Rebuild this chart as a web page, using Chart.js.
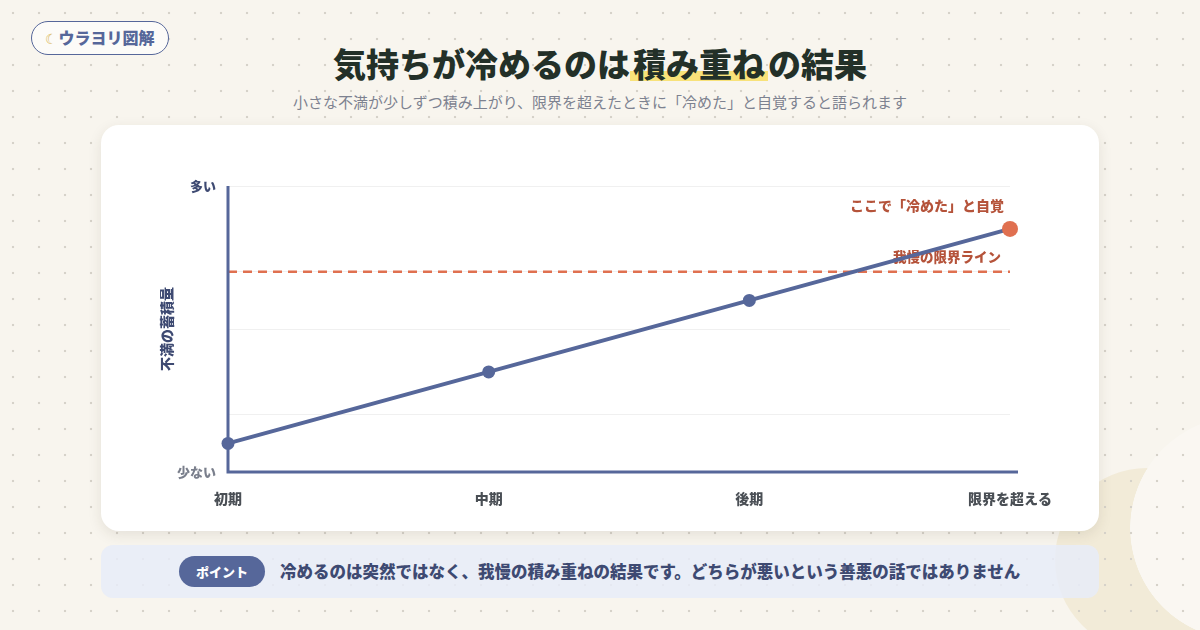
<!DOCTYPE html>
<html lang="ja">

<head>
    <meta charset="UTF-8">
    <title>気持ちが冷めるのは積み重ねの結果</title>
    <script src="https://cdn.jsdelivr.net/npm/chart.js"></script>
    <style>
        * { margin: 0; padding: 0; box-sizing: border-box; }
        body {
            width: 1200px;
            height: 630px;
            overflow: hidden;
            position: relative;
            font-family: "Noto Sans CJK JP", "Noto Sans", sans-serif;
            background-color: #f8f5ee;
        }
        .dots {
            position: absolute;
            left: 0; top: 0; width: 1200px; height: 630px;
            background-image: radial-gradient(circle, #d6d2c9 1.1px, transparent 1.6px);
            background-size: 26px 26px;
        }
        /* 右下の三日月 */
        .moon {
            position: absolute;
            left: 1055px;
            top: 468px;
            width: 184px;
            height: 184px;
            border-radius: 50%;
            background: radial-gradient(circle 112px at 187px 60px, transparent 111.5px, #f2ebd8 112px);
        }
        .moon-in {
            position: absolute;
            left: 1130px;
            top: 416px;
            width: 224px;
            height: 224px;
            border-radius: 50%;
            background: rgba(255, 255, 255, 0.25);
        }
        .badge {
            position: absolute;
            left: 31px;
            top: 21px;
            width: 138px;
            height: 34px;
            border: 1.5px solid #56679a;
            border-radius: 17px;
            background: #fcfbf8;
            color: #56679a;
            font-weight: 900;
            font-size: 16px;
            line-height: 31px;
            text-align: center;
        }
        .badge .m { color: #d9b85a; font-weight: 400; font-size: 14px; }
        h1 {
            position: absolute;
            left: 0;
            width: 1200px;
            top: 39px;
            text-align: center;
            font-size: 33px;
            font-weight: 900;
            color: #233028;
            line-height: 48px;
        }
        h1 span {
            padding: 0 3px;
            background: linear-gradient(transparent 66%, #f8e27a 66%, #f8e27a 88%, transparent 88%);
        }
        .sub {
            position: absolute;
            left: 0;
            width: 1200px;
            top: 91px;
            text-align: center;
            font-size: 15px;
            color: #7d8290;
        }
        .card {
            position: absolute;
            left: 101px;
            top: 125px;
            width: 998px;
            height: 406px;
            background: #fff;
            border-radius: 18px;
            box-shadow: 0 4px 14px rgba(60, 50, 30, 0.10);
        }
        .card canvas { position: absolute; left: 0; top: 0; }
        .point {
            position: absolute;
            left: 101px;
            top: 545px;
            width: 998px;
            height: 53px;
            background: rgba(232, 236, 248, 0.85);
            border-radius: 12px;
        }
        .point .tag {
            position: absolute;
            left: 78px;
            top: 11px;
            width: 86px;
            height: 31px;
            border-radius: 16px;
            background: #56679a;
            color: #fff;
            font-weight: 900;
            font-size: 13px;
            line-height: 31px;
            text-align: center;
        }
        .point .txt {
            position: absolute;
            left: 179px;
            top: 0;
            line-height: 53px;
            font-size: 16.5px;
            font-weight: 900;
            color: #3e4a72;
            white-space: nowrap;
        }
    </style>
</head>

<body>
    <div class="moon"></div>
    <div class="moon-in"></div>
    <div class="dots"></div>
    <div class="badge"><span class="m">☾</span>ウラヨリ図解</div>
    <h1>気持ちが冷めるのは<span>積み重ね</span>の結果</h1>
    <div class="sub">小さな不満が少しずつ積み上がり、限界を超えたときに「冷めた」と自覚すると語られます</div>

    <div class="card">
        <canvas id="chartLine" width="998" height="406"></canvas>
    </div>

    <div class="point">
        <div class="tag">ポイント</div>
        <div class="txt">冷めるのは突然ではなく、我慢の積み重ねの結果です。どちらが悪いという善悪の話ではありません</div>
    </div>
</body>

</html>
<script>
    // データ
    var rotulos = ["初期", "中期", "後期", "限界を超える"];
    var fuman = [10, 35, 60, 85];
    var genkai = 70;
    var yTicks = [0, 20, 50, 70, 100];
    var yLabels = { 0: "少ない", 100: "多い" };
    var genkaiLabel = "我慢の限界ライン";
    var jikakuLabel = "ここで「冷めた」と自覚";

    var azul = '#56679a';
    var laranja = '#e07050';
    var textoLaranja = '#b5533a';
    var fonte = '"Noto Sans CJK JP", "Noto Sans", sans-serif';

    // 限界ライン (データセットの下に描く)
    var linhaLimite = {
        id: 'linhaLimite',
        beforeDatasetsDraw: function (chart) {
            var ctx = chart.ctx, area = chart.chartArea;
            var y = chart.scales.y.getPixelForValue(genkai);
            ctx.save();
            ctx.font = '900 13.5px ' + fonte;
            ctx.fillStyle = textoLaranja;
            ctx.textAlign = 'right';
            ctx.textBaseline = 'middle';
            ctx.fillText(genkaiLabel, area.right - 9, y - 15);
            ctx.strokeStyle = laranja;
            ctx.lineWidth = 2.5;
            ctx.setLineDash([9, 6]);
            ctx.beginPath();
            ctx.moveTo(area.left, y);
            ctx.lineTo(area.right, y);
            ctx.stroke();
            ctx.restore();
        },
        afterDatasetsDraw: function (chart) {
            var ctx = chart.ctx, area = chart.chartArea;
            var pts = chart.getDatasetMeta(0).data;
            var last = pts[pts.length - 1];
            ctx.save();
            // 軸線
            ctx.strokeStyle = azul;
            ctx.lineWidth = 3;
            ctx.beginPath();
            ctx.moveTo(area.left, area.top);
            ctx.lineTo(area.left, area.bottom);
            ctx.lineTo(area.right + 8, area.bottom);
            ctx.stroke();
            ctx.font = '900 14px ' + fonte;
            ctx.fillStyle = textoLaranja;
            ctx.textAlign = 'right';
            ctx.textBaseline = 'middle';
            ctx.fillText(jikakuLabel, last.x - 6, last.y - 23);
            ctx.restore();
        }
    };

    var ctxLine = document.getElementById("chartLine").getContext("2d");
    var configLine = {
        type: 'line',
        data: {
            labels: rotulos,
            datasets: [
                {
                    label: '不満の蓄積量',
                    data: fuman,
                    borderColor: azul,
                    borderWidth: 4,
                    pointRadius: fuman.map(function (v, i) { return i === fuman.length - 1 ? 8 : 6.5; }),
                    pointBackgroundColor: fuman.map(function (v, i) { return i === fuman.length - 1 ? laranja : azul; }),
                    pointBorderWidth: 0,
                    tension: 0
                }
            ]
        },
        options: {
            responsive: false,
            animation: false,
            layout: { padding: { left: 53, top: 61, right: 89, bottom: 19 } },
            plugins: {
                legend: { display: false },
                tooltip: { enabled: false }
            },
            scales: {
                x: {
                    grid: { display: false },
                    border: { display: false },
                    ticks: {
                        color: '#4a4f55',
                        font: { family: fonte, size: 14, weight: '900' },
                        padding: 10,
                        maxRotation: 0,
                        autoSkip: false
                    },
                    afterFit: function (scale) { scale.height = 40; }
                },
                y: {
                    min: 0,
                    max: 100,
                    afterBuildTicks: function (scale) {
                        scale.ticks = yTicks.map(function (v) { return { value: v }; });
                    },
                    grid: { color: '#f0f0f0', lineWidth: 1, drawTicks: false },
                    border: { display: false },
                    ticks: {
                        padding: 12,
                        font: { family: fonte, size: 13, weight: '900' },
                        color: function (c) { return c.tick && c.tick.value === 0 ? '#7a7f8c' : '#3e4a72'; },
                        callback: function (v) { return yLabels[v] || ''; }
                    },
                    title: {
                        display: true,
                        text: '不満の蓄積量',
                        color: '#3e4a72',
                        font: { family: fonte, size: 14, weight: '900' }
                    },
                    afterFit: function (scale) { scale.width = 74; }
                }
            }
        },
        plugins: [linhaLimite]
    };
    var graficoLinha = new Chart(ctxLine, configLine);
</script>
